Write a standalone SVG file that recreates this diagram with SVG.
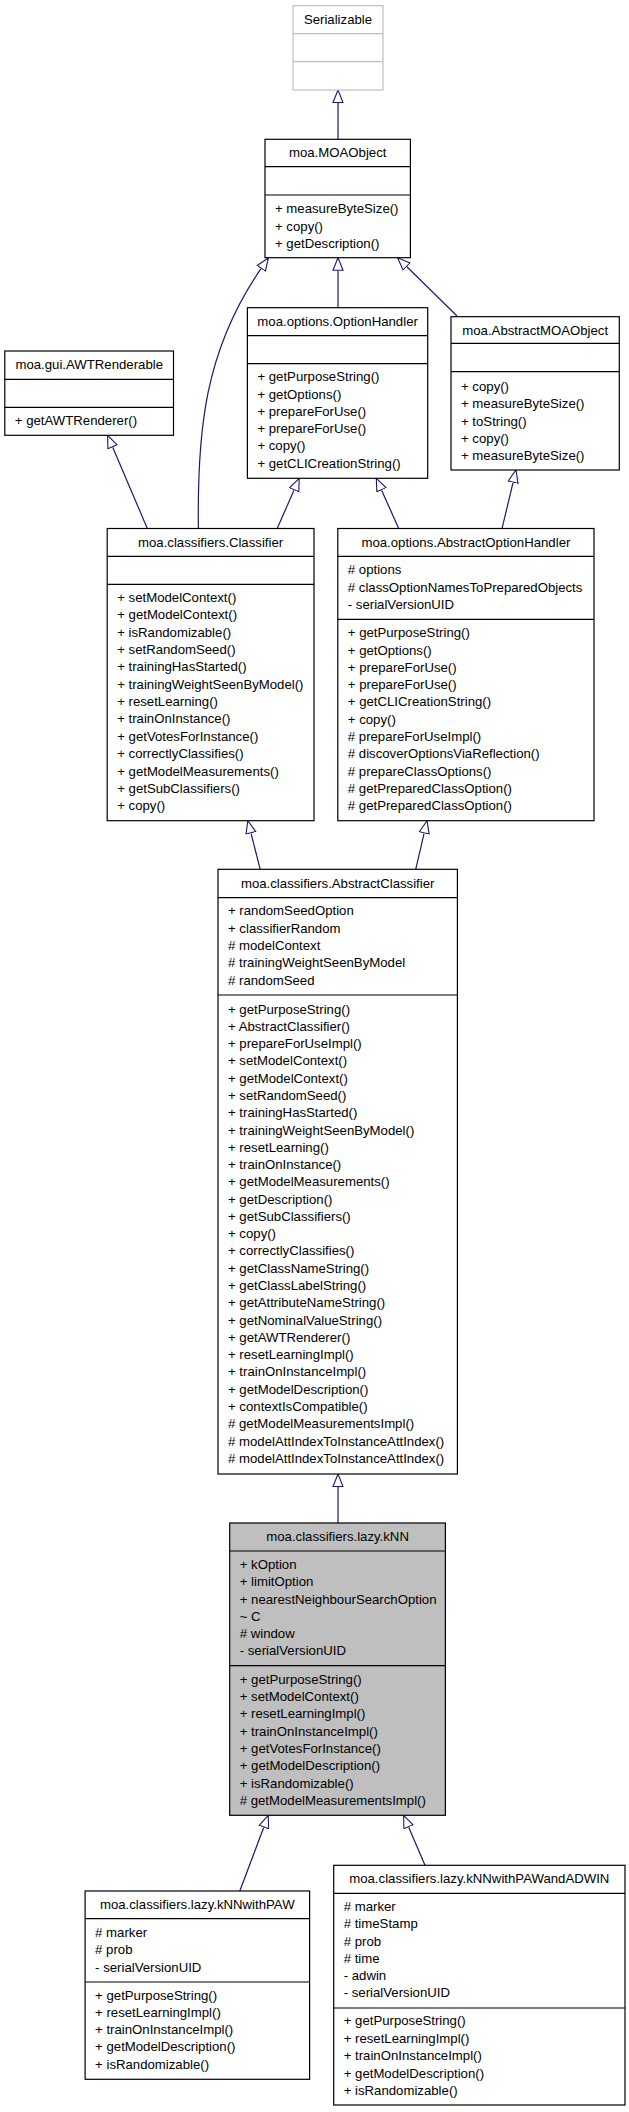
<svg xmlns="http://www.w3.org/2000/svg" width="629" height="2112" viewBox="0 0 629 2112">
<style>
.box{fill:#ffffff;stroke:#000000;stroke-width:1.2}
.grey{fill:#bfbfbf}
.ghost{fill:#ffffff;stroke:#bfbfbf;stroke-width:1.2}
.sep{stroke:#000000;stroke-width:1.2}
.gsep{stroke:#bfbfbf;stroke-width:1.2}
text{font-family:"Liberation Sans",Arial,Helvetica,sans-serif;font-size:13.2px;fill:#000000}
.c{text-anchor:middle}
.edge{fill:none;stroke:#191970;stroke-width:1.2;marker-end:url(#inh)}
</style>
<defs>
<marker id="inh" markerUnits="userSpaceOnUse" viewBox="0 0 14 12" markerWidth="14" markerHeight="12" refX="0" refY="6" orient="auto">
<path d="M0.5,1 L13,6 L0.5,11 Z" fill="#ffffff" stroke="#191970" stroke-width="1.1"/>
</marker>
</defs>
<rect width="629" height="2112" fill="#ffffff"/>

<g id="connectors">
<path class="edge" d="M338,139.3 L338,103"/>
<path class="edge" d="M338,307.7 L338,270.7"/>
<path class="edge" d="M457,316 L406.9,266.8"/>
<path class="edge" d="M198.4,528.7 C197,430 205,350 261,268.7"/>
<path class="edge" d="M147.4,528.7 L112.7,447.3"/>
<path class="edge" d="M277.1,528.7 L294,490.2"/>
<path class="edge" d="M398.8,528.7 L381.6,490.2"/>
<path class="edge" d="M502,528.7 L513,482.6"/>
<path class="edge" d="M260.2,869.3 L251,833.3"/>
<path class="edge" d="M415.7,869.3 L424.1,833.4"/>
<path class="edge" d="M338,1523 L338,1487"/>
<path class="edge" d="M239.8,1891 L263.7,1827.5"/>
<path class="edge" d="M425,1865.3 L408.7,1827.2"/>
</g>

<g id="Serializable">
<rect class="ghost" x="293" y="5.7" width="90" height="84.3"/>
<line class="gsep" x1="293" y1="33.7" x2="383" y2="33.7"/>
<line class="gsep" x1="293" y1="61.7" x2="383" y2="61.7"/>
<text class="c" x="338" y="23.5">Serializable</text>
</g>

<g id="MOAObject">
<rect class="box" x="265" y="139.3" width="145.4" height="118.4"/>
<line class="sep" x1="265" y1="166.7" x2="410.4" y2="166.7"/>
<line class="sep" x1="265" y1="195" x2="410.4" y2="195"/>
<text class="c" x="337.7" y="157.3">moa.MOAObject</text>
<text x="275" y="213.2">+ measureByteSize()</text>
<text x="275" y="230.5">+ copy()</text>
<text x="275" y="247.5">+ getDescription()</text>
</g>

<g id="AWTRenderable">
<rect class="box" x="4.8" y="351" width="168.7" height="84.3"/>
<line class="sep" x1="4.8" y1="379.3" x2="173.5" y2="379.3"/>
<line class="sep" x1="4.8" y1="407.3" x2="173.5" y2="407.3"/>
<text class="c" x="89.2" y="369">moa.gui.AWTRenderable</text>
<text x="14.8" y="425.2">+ getAWTRenderer()</text>
</g>

<g id="OptionHandler">
<rect class="box" x="247.4" y="307.7" width="180.3" height="170.6"/>
<line class="sep" x1="247.4" y1="335.7" x2="427.7" y2="335.7"/>
<line class="sep" x1="247.4" y1="363.7" x2="427.7" y2="363.7"/>
<text class="c" x="337.6" y="325.5">moa.options.OptionHandler</text>
<text x="257.4" y="381.2">+ getPurposeString()</text>
<text x="257.4" y="398.5">+ getOptions()</text>
<text x="257.4" y="415.8">+ prepareForUse()</text>
<text x="257.4" y="433.1">+ prepareForUse()</text>
<text x="257.4" y="450.4">+ copy()</text>
<text x="257.4" y="467.7">+ getCLICreationString()</text>
</g>

<g id="AbstractMOAObject">
<rect class="box" x="451" y="316.7" width="168.3" height="153.3"/>
<line class="sep" x1="451" y1="343.3" x2="619.3" y2="343.3"/>
<line class="sep" x1="451" y1="371.7" x2="619.3" y2="371.7"/>
<text class="c" x="535.2" y="334.5">moa.AbstractMOAObject</text>
<text x="461" y="391.2">+ copy()</text>
<text x="461" y="408.4">+ measureByteSize()</text>
<text x="461" y="425.6">+ toString()</text>
<text x="461" y="442.8">+ copy()</text>
<text x="461" y="460">+ measureByteSize()</text>
</g>

<g id="Classifier">
<rect class="box" x="107.2" y="528.5" width="206.8" height="292.2"/>
<line class="sep" x1="107.2" y1="556.3" x2="314" y2="556.3"/>
<line class="sep" x1="107.2" y1="584.3" x2="314" y2="584.3"/>
<text class="c" x="210.6" y="546.5">moa.classifiers.Classifier</text>
<text x="117.2" y="601.8">+ setModelContext()</text>
<text x="117.2" y="619.2">+ getModelContext()</text>
<text x="117.2" y="636.5">+ isRandomizable()</text>
<text x="117.2" y="653.9">+ setRandomSeed()</text>
<text x="117.2" y="671.3">+ trainingHasStarted()</text>
<text x="117.2" y="688.7">+ trainingWeightSeenByModel()</text>
<text x="117.2" y="706">+ resetLearning()</text>
<text x="117.2" y="723.4">+ trainOnInstance()</text>
<text x="117.2" y="740.8">+ getVotesForInstance()</text>
<text x="117.2" y="758.1">+ correctlyClassifies()</text>
<text x="117.2" y="775.5">+ getModelMeasurements()</text>
<text x="117.2" y="792.9">+ getSubClassifiers()</text>
<text x="117.2" y="810.2">+ copy()</text>
</g>

<g id="AbstractOptionHandler">
<rect class="box" x="337.8" y="528.5" width="256.2" height="292.2"/>
<line class="sep" x1="337.8" y1="556.3" x2="594" y2="556.3"/>
<line class="sep" x1="337.8" y1="619.3" x2="594" y2="619.3"/>
<text class="c" x="465.9" y="546.5">moa.options.AbstractOptionHandler</text>
<text x="347.8" y="574.2"># options</text>
<text x="347.8" y="591.5"># classOptionNamesToPreparedObjects</text>
<text x="347.8" y="608.8">- serialVersionUID</text>
<text x="347.8" y="637.2">+ getPurposeString()</text>
<text x="347.8" y="654.5">+ getOptions()</text>
<text x="347.8" y="671.8">+ prepareForUse()</text>
<text x="347.8" y="689.1">+ prepareForUse()</text>
<text x="347.8" y="706.4">+ getCLICreationString()</text>
<text x="347.8" y="723.7">+ copy()</text>
<text x="347.8" y="741">#  prepareForUseImpl()</text>
<text x="347.8" y="758.3"># discoverOptionsViaReflection()</text>
<text x="347.8" y="775.6"># prepareClassOptions()</text>
<text x="347.8" y="792.9"># getPreparedClassOption()</text>
<text x="347.8" y="810.2"># getPreparedClassOption()</text>
</g>

<g id="AbstractClassifier">
<rect class="box" x="218" y="869.3" width="239.4" height="604.7"/>
<line class="sep" x1="218" y1="897.7" x2="457.4" y2="897.7"/>
<line class="sep" x1="218" y1="995" x2="457.4" y2="995"/>
<text class="c" x="337.7" y="887.6">moa.classifiers.AbstractClassifier</text>
<text x="228" y="915.2">+ randomSeedOption</text>
<text x="228" y="932.6">+ classifierRandom</text>
<text x="228" y="950">#  modelContext</text>
<text x="228" y="967.4"># trainingWeightSeenByModel</text>
<text x="228" y="984.8"># randomSeed</text>
<text x="228" y="1013.5">+ getPurposeString()</text>
<text x="228" y="1030.8">+ AbstractClassifier()</text>
<text x="228" y="1048.1">+ prepareForUseImpl()</text>
<text x="228" y="1065.3">+ setModelContext()</text>
<text x="228" y="1082.6">+ getModelContext()</text>
<text x="228" y="1099.9">+ setRandomSeed()</text>
<text x="228" y="1117.2">+ trainingHasStarted()</text>
<text x="228" y="1134.5">+ trainingWeightSeenByModel()</text>
<text x="228" y="1151.7">+ resetLearning()</text>
<text x="228" y="1169">+ trainOnInstance()</text>
<text x="228" y="1186.3">+ getModelMeasurements()</text>
<text x="228" y="1203.6">+ getDescription()</text>
<text x="228" y="1220.9">+ getSubClassifiers()</text>
<text x="228" y="1238.1">+ copy()</text>
<text x="228" y="1255.4">+ correctlyClassifies()</text>
<text x="228" y="1272.7">+ getClassNameString()</text>
<text x="228" y="1290">+ getClassLabelString()</text>
<text x="228" y="1307.3">+ getAttributeNameString()</text>
<text x="228" y="1324.5">+ getNominalValueString()</text>
<text x="228" y="1341.8">+ getAWTRenderer()</text>
<text x="228" y="1359.1">+ resetLearningImpl()</text>
<text x="228" y="1376.4">+ trainOnInstanceImpl()</text>
<text x="228" y="1393.7">+ getModelDescription()</text>
<text x="228" y="1410.9">+ contextIsCompatible()</text>
<text x="228" y="1428.2"># getModelMeasurementsImpl()</text>
<text x="228" y="1445.5"># modelAttIndexToInstanceAttIndex()</text>
<text x="228" y="1462.8"># modelAttIndexToInstanceAttIndex()</text>
</g>

<g id="kNN">
<rect class="box grey" x="229.7" y="1523" width="215.7" height="292.3"/>
<line class="sep" x1="229.7" y1="1551" x2="445.4" y2="1551"/>
<line class="sep" x1="229.7" y1="1665.7" x2="445.4" y2="1665.7"/>
<text class="c" x="337.6" y="1541.3">moa.classifiers.lazy.kNN</text>
<text x="239.7" y="1569.2">+ kOption</text>
<text x="239.7" y="1586.4">+ limitOption</text>
<text x="239.7" y="1603.6">+ nearestNeighbourSearchOption</text>
<text x="239.7" y="1620.8">~ C</text>
<text x="239.7" y="1638"># window</text>
<text x="239.7" y="1655.2">- serialVersionUID</text>
<text x="239.7" y="1683.5">+ getPurposeString()</text>
<text x="239.7" y="1700.8">+ setModelContext()</text>
<text x="239.7" y="1718.2">+ resetLearningImpl()</text>
<text x="239.7" y="1735.5">+ trainOnInstanceImpl()</text>
<text x="239.7" y="1752.8">+ getVotesForInstance()</text>
<text x="239.7" y="1770.2">+ getModelDescription()</text>
<text x="239.7" y="1787.5">+ isRandomizable()</text>
<text x="239.7" y="1804.8"># getModelMeasurementsImpl()</text>
</g>

<g id="kNNwithPAW">
<rect class="box" x="85.1" y="1891" width="224.5" height="188.3"/>
<line class="sep" x1="85.1" y1="1918.7" x2="309.6" y2="1918.7"/>
<line class="sep" x1="85.1" y1="1982" x2="309.6" y2="1982"/>
<text class="c" x="197.3" y="1909.2">moa.classifiers.lazy.kNNwithPAW</text>
<text x="95.1" y="1937.2"># marker</text>
<text x="95.1" y="1954.4"># prob</text>
<text x="95.1" y="1971.6">- serialVersionUID</text>
<text x="95.1" y="1999.5">+ getPurposeString()</text>
<text x="95.1" y="2016.8">+ resetLearningImpl()</text>
<text x="95.1" y="2034.1">+ trainOnInstanceImpl()</text>
<text x="95.1" y="2051.4">+ getModelDescription()</text>
<text x="95.1" y="2068.7">+ isRandomizable()</text>
</g>

<g id="kNNwithPAWandADWIN">
<rect class="box" x="333.7" y="1865.3" width="291.3" height="239.7"/>
<line class="sep" x1="333.7" y1="1893.3" x2="625" y2="1893.3"/>
<line class="sep" x1="333.7" y1="2008" x2="625" y2="2008"/>
<text class="c" x="479.3" y="1883.3">moa.classifiers.lazy.kNNwithPAWandADWIN</text>
<text x="343.7" y="1911.2"># marker</text>
<text x="343.7" y="1928.4"># timeStamp</text>
<text x="343.7" y="1945.6"># prob</text>
<text x="343.7" y="1962.8"># time</text>
<text x="343.7" y="1980">- adwin</text>
<text x="343.7" y="1997.2">- serialVersionUID</text>
<text x="343.7" y="2025.2">+ getPurposeString()</text>
<text x="343.7" y="2042.7">+ resetLearningImpl()</text>
<text x="343.7" y="2060.2">+ trainOnInstanceImpl()</text>
<text x="343.7" y="2077.7">+ getModelDescription()</text>
<text x="343.7" y="2095.2">+ isRandomizable()</text>
</g>
</svg>
